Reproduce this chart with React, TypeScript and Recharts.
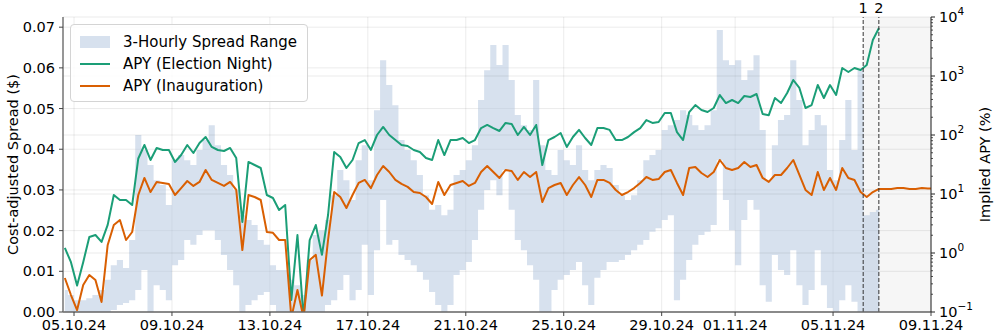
import React from 'react';
import {
  ComposedChart,
  Area,
  Line,
  XAxis,
  YAxis,
  CartesianGrid,
  ReferenceLine,
  ReferenceArea,
} from 'recharts';

const FONT = '"DejaVu Sans", sans-serif';
const GREEN = '#1b9e77';
const ORANGE = '#d95f02';
const BAND = '#b0c4de';

// days counted from 05.10.24 00:00, one sample every 6 hours
const START_DAY = -0.375;
const STEP_DAY = 0.25;

const bandLow = [
  0, 0, 0, 0, 0, 0, 0, 0, 0.0005, 0.0017,
  0.0022, 0.0029, 0.0054, 0.0103, 0, 0.0066, 0.0054, 0.0029, 0.0115, 0.0128,
  0.0177, 0.0165, 0.0189, 0.0201, 0.0201, 0.0177, 0.014, 0.0103, 0.0066, 0,
  0.0017, 0.0029, 0.0042, 0.0049, 0.0017, 0, 0, 0, 0, 0,
  0, 0, 0, 0.0017, 0.0029, 0.0054, 0.0091, 0.0029, 0.0054, 0.0165,
  0.0042, 0.0152, 0.0275, 0.0165, 0.0177, 0.014, 0.0128, 0.0115, 0.0098, 0.0079,
  0.0049, 0.0017, 0, 0.0017, 0.0091, 0.0103, 0.0123, 0.0177, 0.0251, 0.03,
  0.0324, 0.0287, 0.0349, 0.0251, 0.0177, 0.0152, 0.0115, 0.0079, 0, 0,
  0.0054, 0.0079, 0.0091, 0.0103, 0.0123, 0.0066, 0.0017, 0.0084, 0.0103, 0.0123,
  0.0123, 0.0128, 0.014, 0.0152, 0.0165, 0.0177, 0.0197, 0.0206, 0.0226, 0.0238,
  0.0029, 0.0079, 0.0128, 0.0165, 0.0189, 0.0197, 0.0214, 0.0373, 0.0275, 0.0201,
  0.0115, 0.0226, 0.0275, 0.0251, 0.0066, 0.0025, 0.014, 0.0103, 0.0091, 0.0152,
  0.0066, 0.0017, 0.0054, 0.0152, 0.0066, 0.001, 0, 0.0029, 0.0066, 0.0025,
  0, 0, 0, 0,
];

const bandHigh = [
  0.0054, 0.0042, 0.0029, 0.0029, 0.0034, 0.0042, 0.0054, 0.0079, 0.0115, 0.0128,
  0.0108, 0.0177, 0.0435, 0.0398, 0.0361, 0.0324, 0.0312, 0.0263, 0.0373, 0.0386,
  0.0373, 0.0361, 0.0398, 0.0423, 0.0459, 0.041, 0.0361, 0.0337, 0.03, 0.0238,
  0.0226, 0.0214, 0.0177, 0.0165, 0.0115, 0.0103, 0.0103, 0.0079, 0.0066, 0.0042,
  0.0128, 0.0189, 0.0201, 0.0226, 0.0287, 0.0349, 0.0324, 0.0275, 0.0373, 0.041,
  0.0324, 0.0496, 0.0619, 0.0558, 0.0508, 0.0423, 0.0398, 0.0373, 0.0337, 0.0287,
  0.0251, 0.0263, 0.0238, 0.0251, 0.0337, 0.0349, 0.0373, 0.041, 0.0521, 0.0594,
  0.0656, 0.0607, 0.0656, 0.057, 0.0484, 0.0459, 0.0447, 0.057, 0.041, 0.0349,
  0.0337, 0.0398, 0.0373, 0.0361, 0.041, 0.0349, 0.0324, 0.0349, 0.0361, 0.0354,
  0.0312, 0.0287, 0.0275, 0.0287, 0.0324, 0.0373, 0.0386, 0.0398, 0.0447, 0.0459,
  0.0472, 0.0496, 0.0484, 0.0459, 0.0447, 0.0459, 0.0496, 0.0693, 0.0619, 0.0607,
  0.0619, 0.057, 0.0594, 0.0631, 0.0447, 0.0324, 0.041, 0.0472, 0.0484, 0.0619,
  0.0521, 0.041, 0.0447, 0.0484, 0.0459, 0.0349, 0.0324, 0.0423, 0.0521, 0.0398,
  0.0594, 0.0238, 0.0246, 0.0251,
];

const apyElection = [
  1.22, 0.7, 0.28, 0.7, 1.87, 2.02, 1.54, 3.0, 9.6, 7.9,
  7.9, 6.5, 40, 67.7, 37.7, 60.3, 55.7, 55.7, 34.9, 45.8,
  67.7, 49.5, 73.1, 92.5, 62.7, 55.7, 53.6, 60.3, 40.7, 3.35,
  34.9, 31.0, 27.6, 9.62, 8.55, 5.35, 6.51, 0.16, 2.02, 0.08,
  1.66, 2.98, 0.93, 4.41, 51.5, 42.4, 27.6, 37.7, 73.1, 82.2,
  55.7, 100, 137, 100, 82.2, 67.7, 65.1, 55.7, 51.5, 40.7,
  37.7, 82.2, 45.8, 82.2, 82.2, 88.9, 73.1, 82.2, 131, 148,
  131, 117, 160, 153, 100, 137, 100, 148, 31.0, 82.2,
  92.5, 108, 62.7, 92.5, 122, 88.9, 67.7, 131, 131, 122,
  82.2, 82.2, 92.5, 112, 131, 179, 160, 166, 236, 236,
  112, 82.2, 245, 322, 265, 245, 287, 476, 348, 392,
  348, 458, 441, 495, 227, 217, 424, 348, 515, 855,
  627, 287, 322, 703, 424, 703, 476, 1368, 1170, 1368,
  1265, 1535, 4074, 6510,
];

const apyInauguration = [
  0.377, 0.194, 0.108, 0.287, 0.424, 0.348, 0.148, 1.37, 2.98, 3.62,
  1.66, 2.27, 9.62, 18.7, 10.8, 16.0, 15.4, 14.8, 9.62, 12.6,
  16.6, 13.7, 16.0, 25.5, 17.3, 15.4, 13.7, 16.0, 11.7, 1.12,
  9.62, 8.89, 7.91, 2.27, 2.2, 1.66, 1.66, 0.08, 0.236, 0.08,
  0.76, 0.93, 0.19, 1.66, 10.8, 8.89, 5.79, 9.62, 15.4, 17.3,
  12.6, 21.0, 29.8, 23.6, 17.3, 14.8, 13.2, 10.8, 10.4, 8.89,
  6.77, 16.0, 9.62, 14.2, 15.4, 16.6, 13.7, 15.4, 23.6, 29.8,
  23.6, 18.7, 25.5, 24.5, 17.3, 23.6, 19.4, 23.6, 7.31, 12.6,
  14.2, 15.4, 9.62, 14.2, 19.4, 14.2, 8.89, 17.3, 17.3, 15.4,
  11.7, 9.62, 10.8, 12.6, 15.4, 19.4, 17.3, 17.9, 23.6, 25.5,
  15.4, 9.62, 27.6, 28.7, 22.7, 19.4, 23.6, 37.7, 27.6, 25.5,
  27.6, 34.9, 28.7, 31.0, 18.7, 16.0, 21.0, 21.0, 27.6, 37.7,
  21.0, 11.7, 9.62, 23.6, 11.7, 18.7, 11.7, 27.6, 18.7, 17.3,
  10.8, 8.89, 10.8, 12.2, 12.2, 12.2, 12.6, 12.6, 12.2, 12.2,
  12.6, 12.4, 12.4,
];

const tickDays = [0, 4, 8, 12, 16, 20, 24, 27, 31, 35];
const tickLabels = [
  '05.10.24', '09.10.24', '13.10.24', '17.10.24', '21.10.24',
  '25.10.24', '29.10.24', '01.11.24', '05.11.24', '09.11.24',
];
const eventDays = [32.23, 32.87];
const eventLabels = ['1', '2'];
const spreadTicks = [0, 0.01, 0.02, 0.03, 0.04, 0.05, 0.06, 0.07];
const apyDecades = [0.1, 1, 10, 100, 1000, 10000];
const seriesNames = ['3-Hourly Spread Range', 'APY (Election Night)', 'APY (Inauguration)'];

const X_DOMAIN: [number, number] = [-0.45, 35];

const minorTicks = apyDecades
  .slice(0, -1)
  .flatMap((d) => [2, 3, 4, 5, 6, 7, 8, 9].map((m) => d * m));

const rows = apyInauguration.map((inauguration, i) => ({
  t: START_DAY + i * STEP_DAY,
  range: i < bandLow.length ? [bandLow[i], bandHigh[i]] : null,
  election: i < apyElection.length ? apyElection[i] : null,
  inauguration,
}));

function RightTick(props: any) {
  const { x, y, payload } = props;
  const lg = Math.log10(payload.value);
  const exp = Math.round(lg);
  const major = Math.abs(lg - exp) < 1e-6;
  const expText = exp < 0 ? '\u2212' + Math.abs(exp) : String(exp);
  return (
    <g>
      <line x1={x} x2={x + (major ? 4 : 2)} y1={y} y2={y} stroke="#222" strokeWidth={major ? 1 : 0.8} />
      {major && (
        <text x={x + 8} y={y} dy={4.5} fontSize={14.5} fill="#000" fontFamily={FONT}>
          10
          <tspan dy={-7} fontSize={10.5}>
            {expText}
          </tspan>
        </text>
      )}
    </g>
  );
}

function LegendBox() {
  const colors = [BAND, GREEN, ORANGE];
  return (
    <div
      style={{
        position: 'absolute',
        left: 70,
        top: 24,
        width: 238,
        height: 78,
        boxSizing: 'border-box',
        border: '1px solid #d4d4d4',
        borderRadius: 4,
        background: 'rgba(255,255,255,0.85)',
        fontFamily: FONT,
        fontSize: 15,
        color: '#000',
      }}
    >
      {seriesNames.map((name, i) => (
        <div
          key={name}
          style={{ position: 'absolute', left: 0, top: 6 + i * 22, height: 22, width: '100%' }}
        >
          {i === 0 ? (
            <div
              style={{ position: 'absolute', left: 9, top: 5, width: 30, height: 12, background: colors[i], opacity: 0.5 }}
            />
          ) : (
            <div
              style={{ position: 'absolute', left: 9, top: 10, width: 30, height: 2, background: colors[i] }}
            />
          )}
          <span style={{ position: 'absolute', left: 52, top: 0, lineHeight: '22px', whiteSpace: 'nowrap' }}>
            {name}
          </span>
        </div>
      ))}
    </div>
  );
}

export default function App() {
  const tickStyle = { fontSize: 14.5, fill: '#000', fontFamily: FONT };
  return (
    <div style={{ position: 'absolute', left: 0, top: 0, width: 997, height: 336, background: '#fff' }}>
      <ComposedChart
        width={997}
        height={336}
        data={rows}
        margin={{ top: 17, right: 26, bottom: 0, left: 0 }}
      >
        <ReferenceArea
          x1={eventDays[0]}
          x2={X_DOMAIN[1]}
          fill="#000"
          fillOpacity={0.035}
          stroke="none"
        />
        <CartesianGrid stroke="#000" strokeOpacity={0.08} />
        {apyDecades.slice(1, -1).map((v) => (
          <ReferenceLine key={v} yAxisId="right" y={v} stroke="#000" strokeOpacity={0.08} />
        ))}
        <XAxis
          dataKey="t"
          type="number"
          domain={X_DOMAIN}
          allowDataOverflow
          ticks={tickDays}
          interval={0}
          tickFormatter={(d: number) => tickLabels[tickDays.indexOf(d)]}
          tick={tickStyle}
          tickSize={4}
          tickMargin={4}
          height={24}
          stroke="#444"
          axisLine={{ stroke: '#666', strokeWidth: 1.5 }}
        />
        <XAxis
          xAxisId="top"
          orientation="top"
          type="number"
          domain={X_DOMAIN}
          ticks={[]}
          tick={false}
          tickLine={false}
          height={0}
          axisLine={{ stroke: '#777', strokeWidth: 1.5 }}
        />
        <YAxis
          type="number"
          domain={[0, 0.0725]}
          allowDataOverflow
          ticks={spreadTicks}
          interval={0}
          tickFormatter={(v: number) => v.toFixed(2)}
          tick={tickStyle}
          tickSize={4}
          tickMargin={4}
          width={63}
          stroke="#444"
          axisLine={{ stroke: '#777', strokeWidth: 1.5 }}
          label={{
            value: 'Cost-adjusted Spread ($)',
            angle: -90,
            position: 'center',
            dx: -19,
            style: { fontSize: 14.5, fill: '#000', fontFamily: FONT },
          }}
        />
        <YAxis
          yAxisId="right"
          orientation="right"
          scale="log"
          type="number"
          domain={[0.1, 10000]}
          allowDataOverflow
          ticks={[...apyDecades, ...minorTicks]}
          interval={0}
          tick={<RightTick />}
          tickLine={false}
          tickSize={0}
          tickMargin={0}
          width={40}
          axisLine={{ stroke: '#222', strokeWidth: 1 }}
          label={{
            value: 'Implied APY (%)',
            angle: -90,
            position: 'center',
            dx: 34,
            style: { fontSize: 14.5, fill: '#000', fontFamily: FONT },
          }}
        />
        <Area
          dataKey="range"
          type="step"
          fill={BAND}
          fillOpacity={0.5}
          stroke="none"
          isAnimationActive={false}
          name={seriesNames[0]}
        />
        <Line
          yAxisId="right"
          dataKey="election"
          type="linear"
          stroke={GREEN}
          strokeWidth={2}
          strokeLinejoin="round"
          dot={false}
          isAnimationActive={false}
          name={seriesNames[1]}
        />
        <Line
          yAxisId="right"
          dataKey="inauguration"
          type="linear"
          stroke={ORANGE}
          strokeWidth={2}
          strokeLinejoin="round"
          dot={false}
          isAnimationActive={false}
          name={seriesNames[2]}
        />
        {eventDays.map((d, i) => (
          <ReferenceLine
            key={d}
            x={d}
            stroke="#333"
            strokeDasharray="4 2"
            label={{
              value: eventLabels[i],
              position: 'top',
              offset: 4,
              fontSize: 14.5,
              fill: '#000',
              fontFamily: FONT,
            }}
          />
        ))}
      </ComposedChart>
      <LegendBox />
    </div>
  );
}
